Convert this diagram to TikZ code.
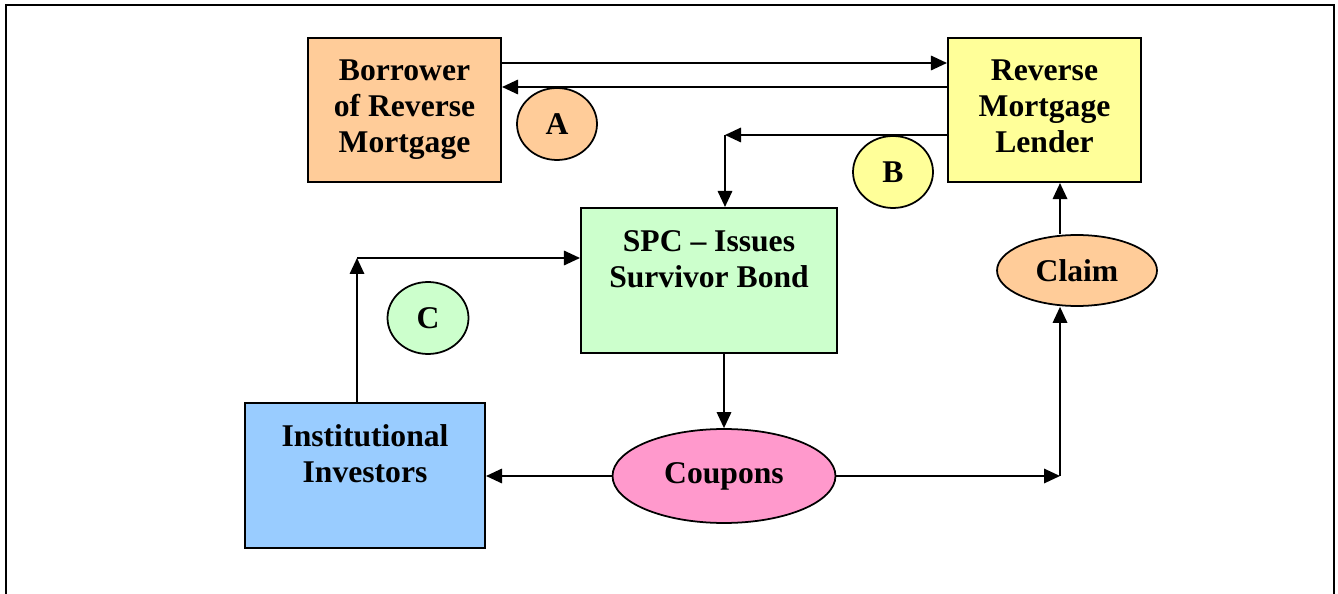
\documentclass[tikz,border=0pt]{standalone}
\usepackage{fontspec}
\setmainfont{Liberation Serif}
\usetikzlibrary{arrows.meta,shapes.geometric}
\definecolor{peach}{HTML}{FFCC99}
\definecolor{lemon}{HTML}{FFFF99}
\definecolor{mint}{HTML}{CCFFCC}
\definecolor{sky}{HTML}{99CCFF}
\definecolor{rose}{HTML}{FF99CC}

\begin{document}
\begin{tikzpicture}[x=0.02cm,y=-0.02cm,
          every node/.style={font=\fontsize{18}{20.5}\selectfont\bfseries},
          box/.style={draw,line width=1.2pt,align=center,inner sep=0pt},
          oval/.style={draw,ellipse,line width=1pt,inner sep=0pt},
          arr/.style={-{Triangle[length=3.2mm,width=2.9mm]},line width=1pt},
      ]
        \useasboundingbox (0,0) rectangle (1338,594);
        \draw[line width=1.5pt] (6,620) -- (6,5) -- (1334,5) -- (1334,620);

        % boxes
        \node[box,fill=peach,minimum width=3.86cm,minimum height=2.88cm] (borrower) at (404.5,110)
          {Borrower\\of Reverse\\Mortgage};
        \node[box,fill=lemon,minimum width=3.86cm,minimum height=2.88cm] (lender) at (1044.5,110)
          {Reverse\\Mortgage\\Lender\vphantom{g}};
        \node[box,fill=mint,minimum width=5.12cm,minimum height=2.9cm] (spc) at (709,280.5)
          {SPC -- Issues\\Survivor Bond\\\vphantom{g}};
        \node[box,fill=sky,minimum width=4.8cm,minimum height=2.9cm] (inv) at (365,475.5)
          {Institutional\\Investors\\\vphantom{gy}};

        % ovals
        \node[oval,fill=peach,minimum width=1.6cm,minimum height=1.44cm] (a) at (557,124) {A};
        \node[oval,fill=lemon,minimum width=1.6cm,minimum height=1.44cm] (b) at (893,172) {B};
        \node[oval,fill=mint,minimum width=1.62cm,minimum height=1.44cm] (c) at (428,318) {C};
        \node[oval,fill=rose,minimum width=4.46cm,minimum height=1.88cm] (coupons) at (724,476) {Coupons};
        \node[oval,fill=peach,minimum width=3.2cm,minimum height=1.42cm] (claim) at (1077,270.5) {Claim};

        \coordinate (bturn) at (725,135);
        \coordinate (cturn) at (357,258);
        \coordinate (dturn) at (1060,476);

        \draw[arr] (borrower.east |- 0,63) -- (lender.west |- 0,63);
        \draw[arr] (lender.west |- 0,87) -- (borrower.east |- 0,87);
        \draw[arr] (lender.west |- bturn) -- (bturn);
        \draw[arr] (bturn) -- (bturn |- spc.north);
        \draw[arr] (cturn |- inv.north) -- (cturn);
        \draw[arr] (cturn) -- (cturn -| spc.west);
        \draw[arr] (coupons.north |- spc.south) -- (coupons.north);
        \draw[arr] (coupons.west) -- (inv.east |- coupons.west);
        \draw[arr] (coupons.east) -- (dturn);
        \draw[arr] (dturn) -- (dturn |- claim.south);
        \draw[arr] (claim.north -| dturn) -- (lender.south -| dturn);
      \end{tikzpicture}
\end{document}
